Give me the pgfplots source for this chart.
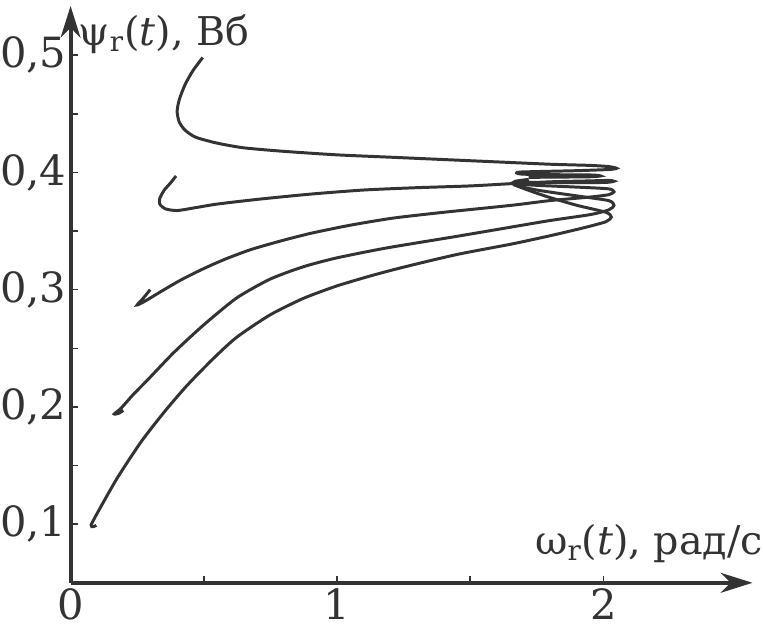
\documentclass[border=0pt]{standalone}
\usepackage{fontspec}
\setmainfont{DejaVu Serif}
\usepackage{pgfplots}
\pgfplotsset{compat=1.18}
\usetikzlibrary{arrows.meta}
\definecolor{ink}{RGB}{51,51,51}
\begin{document}
\begin{tikzpicture}
\begin{axis}[
  scale only axis,
  width=344pt, height=291pt,
  xmin=0, xmax=2.56, ymin=0.05, ymax=0.542,
  axis lines=left,
  axis line style={ink, line width=2pt, -{Stealth[length=16pt,width=10pt,inset=5pt]}},
  xtick={0,1,2}, minor xtick={0.5,1.5},
  ytick={0.1,0.2,0.3,0.4,0.5}, minor ytick={0.15,0.25,0.35,0.45},
  tick align=inside,
  major tick length=3.5pt, minor tick length=3.5pt,
  every tick/.style={ink, line width=0.8pt},
  /pgf/number format/assume math mode=true,
  /pgf/number format/use comma,
  /pgf/number format/fixed,
  /pgf/number format/precision=1,
  yticklabel style={font=\fontsize{21}{24}\selectfont, text=ink, inner sep=0pt, xshift=-2pt},
  xticklabel style={font=\fontsize{21}{24}\selectfont, text=ink, inner xsep=0pt, inner ysep=4pt, yshift=1.5pt},
  xlabel={ω\textsubscript{r}(\textit{t}), рад/с},
  ylabel={ψ\textsubscript{r}(\textit{t}), Вб},
  xlabel style={at={(axis description cs:1,0)}, anchor=south east, inner sep=0pt, xshift=5.5pt, yshift=10pt, font=\fontsize{20}{24}\selectfont, text=ink},
  ylabel style={at={(axis description cs:0,1)}, anchor=base west, rotate=-90, inner sep=0pt, xshift=4pt, yshift=-20pt, font=\fontsize{20}{24}\selectfont, text=ink},
  clip=false,
]
\addplot[ink, line width=1.5pt, smooth, tension=0.4] coordinates {
(0.496,0.498) (0.46,0.487) (0.43,0.475) (0.408,0.462) (0.400,0.452) (0.408,0.443)
(0.43,0.436) (0.47,0.430) (0.55,0.425) (0.65,0.421) (0.8,0.418) (1.0,0.415)
(1.2,0.413) (1.4,0.411) (1.6,0.409) (1.8,0.407) (1.95,0.406) (2.02,0.405)
(2.05,0.4035) (2.02,0.4025) (1.9,0.4015) (1.76,0.4008) (1.685,0.4003) (1.675,0.3995)
(1.70,0.3985) (1.85,0.398) (1.96,0.3978) (1.99,0.397) (1.95,0.3963) (1.82,0.396) (1.72,0.3958)
};
\addplot[ink, line width=1.5pt, smooth, tension=0.4] coordinates {
(0.396,0.397) (0.375,0.391) (0.352,0.385) (0.335,0.378) (0.335,0.373) (0.355,0.369)
(0.40,0.3675) (0.47,0.370) (0.55,0.373) (0.7,0.377) (0.9,0.3815) (1.1,0.385)
(1.3,0.387) (1.5,0.3885) (1.66,0.3905) (1.80,0.392) (1.95,0.3928) (2.02,0.3932)
(2.04,0.3925) (2.01,0.3915) (1.88,0.3912) (1.75,0.3915) (1.68,0.392)
};
\addplot[ink, line width=1.5pt, smooth, tension=0.4] coordinates {
(0.299,0.300) (0.27,0.292) (0.25,0.287) (0.27,0.289) (0.30,0.293) (0.351,0.300)
(0.42,0.309) (0.5,0.318) (0.58,0.326) (0.674,0.334) (0.78,0.341) (0.9,0.348) (1.05,0.355)
(1.209,0.361) (1.4,0.366) (1.657,0.372) (1.8,0.376) (1.95,0.379) (2.02,0.381)
(2.04,0.3835) (2.02,0.386) (1.9,0.3875) (1.75,0.389) (1.665,0.3905) (1.67,0.3925)
(1.72,0.394)
};
\addplot[ink, line width=1.5pt, smooth, tension=0.4] coordinates {
(0.198,0.197) (0.18,0.1945) (0.164,0.194) (0.19,0.199) (0.235,0.2105) (0.289,0.223)
(0.388,0.2465) (0.5,0.270) (0.624,0.293) (0.749,0.309) (0.873,0.3195) (0.997,0.327)
(1.184,0.3355) (1.45,0.3455) (1.657,0.3535) (1.8,0.359) (1.95,0.364) (2.02,0.368)
(2.04,0.372) (2.02,0.376) (1.9,0.380) (1.75,0.385) (1.665,0.3895) (1.67,0.392)
(1.71,0.3935)
};
\addplot[ink, line width=1.5pt, smooth, tension=0.4] coordinates {
(0.097,0.099) (0.086,0.098) (0.077,0.0993) (0.114,0.115) (0.177,0.140)
(0.264,0.170) (0.351,0.1955) (0.438,0.2185) (0.537,0.2415) (0.624,0.2595) (0.749,0.2785)
(0.873,0.2925) (0.997,0.303) (1.122,0.3115) (1.246,0.319) (1.45,0.330) (1.657,0.339)
(1.8,0.346) (1.93,0.353) (2.01,0.358) (2.03,0.362) (2.01,0.366) (1.9,0.372)
(1.78,0.380) (1.67,0.389) (1.67,0.3915) (1.70,0.393)
};
\end{axis}
\path (current bounding box.north) ++(0,2pt);
\end{tikzpicture}
\end{document}
